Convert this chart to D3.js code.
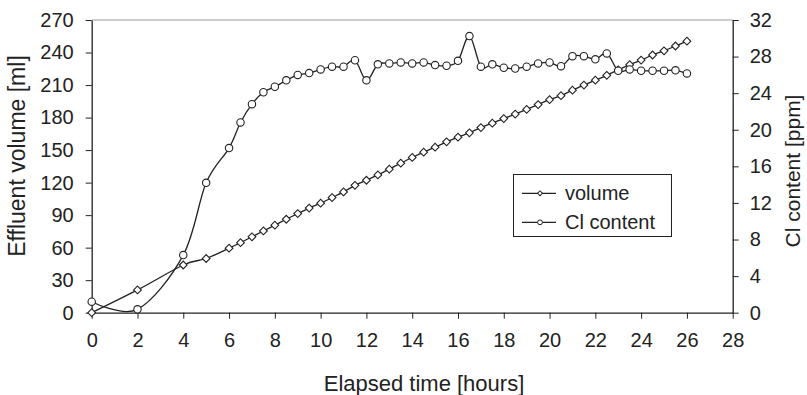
<!DOCTYPE html>
<html>
<head>
<meta charset="utf-8">
<script src="https://cdn.jsdelivr.net/npm/d3@7"></script>
<style>
  html, body { margin: 0; padding: 0; background: #fff; }
  svg { display: block; font-family: "Liberation Sans", Arial, sans-serif; }
</style>
</head>
<body>
<svg id="chart" width="807" height="395"></svg>
<script>
// ---- Data ----
const hours = [0, 2, 4, 5, 6, 6.5, 7, 7.5, 8, 8.5, 9, 9.5, 10, 10.5, 11, 11.5, 12, 12.5, 13, 13.5,
  14, 14.5, 15, 15.5, 16, 16.5, 17, 17.5, 18, 18.5, 19, 19.5, 20, 20.5, 21, 21.5, 22, 22.5, 23, 23.5,
  24, 24.5, 25, 25.5, 26];
const volume = [0, 21, 44, 50, 59.5, 64.6, 70, 75.4, 80.7, 86.2, 91.4, 96.5, 101, 106.2, 111.4, 117.5,
  122.2, 127.1, 132.4, 137.9, 143.2, 148.1, 152.7, 157.6, 161.9, 165.9, 170.8, 174.8, 179.1, 183.2,
  187.5, 192, 196.5, 200.2, 205.3, 210, 214.5, 219, 224, 228.8, 233, 237.7, 241.6, 246, 250.5];
const clContent = [1.2, 0.37, 6.3, 14.2, 18.0, 20.8, 22.8, 24.1, 24.7, 25.4, 26.0, 26.2, 26.6, 26.9, 26.9,
  27.6, 25.4, 27.15, 27.25, 27.36, 27.25, 27.36, 27.07, 27.0, 27.54, 30.24, 26.9, 27.15, 26.78, 26.7,
  26.9, 27.25, 27.36, 26.95, 28.05, 28.05, 27.7, 28.35, 26.45, 26.6, 26.45, 26.45, 26.45, 26.5, 26.16];
const xTicks = [0, 2, 4, 6, 8, 10, 12, 14, 16, 18, 20, 22, 24, 26, 28];
const yLeftTicks = [0, 30, 60, 90, 120, 150, 180, 210, 240, 270];
const yRightTicks = [0, 4, 8, 12, 16, 20, 24, 28, 32];
const seriesNames = ["volume", "Cl content"];

// ---- Layout ----
const ink = "#222";
const L = 91.7, R = 732.7, T = 20, B = 312.7;
const svg = d3.select("#chart");

const x = d3.scaleLinear().domain([0, 28]).range([L, R]);
const yL = d3.scaleLinear().domain([0, 270]).range([B, T]);
const yR = d3.scaleLinear().domain([0, 32]).range([B, T]);

// top border
svg.append("line").attr("x1", L).attr("x2", R).attr("y1", T).attr("y2", T)
  .attr("stroke", "#999").attr("stroke-width", 1);

function styleAxis(g) {
  g.selectAll("path").attr("stroke", ink).attr("stroke-width", 1.3);
  g.selectAll("line").attr("stroke", ink).attr("stroke-width", 1);
  g.selectAll("text").attr("fill", ink).style("font-size", "20px")
    .style("font-family", "'Liberation Sans', Arial, sans-serif");
}

const gx = svg.append("g").attr("transform", `translate(0,${B})`)
  .call(d3.axisBottom(x).tickValues(xTicks).tickSize(6).tickPadding(14).tickSizeOuter(0));
styleAxis(gx);

const gyl = svg.append("g").attr("transform", `translate(${L},0)`)
  .call(d3.axisLeft(yL).tickValues(yLeftTicks).tickSize(6).tickPadding(12).tickSizeOuter(0));
styleAxis(gyl);

const gyr = svg.append("g").attr("transform", `translate(${R},0)`)
  .call(d3.axisRight(yR).tickValues(yRightTicks).tickSize(6).tickPadding(11).tickSizeOuter(0));
styleAxis(gyr);

// ---- Series ----
const curve = d3.curveCardinal.tension(0);
const volPts = hours.map((h, i) => [x(h), yL(volume[i])]);
const clPts = hours.map((h, i) => [x(h), yR(clContent[i])]);
const lineGen = d3.line().curve(curve);

svg.append("path").attr("d", lineGen(volPts)).attr("fill", "none")
  .attr("stroke", ink).attr("stroke-width", 1.3);
svg.append("path").attr("d", lineGen(clPts)).attr("fill", "none")
  .attr("stroke", ink).attr("stroke-width", 1.3);

svg.append("g").selectAll("path").data(volPts).join("path")
  .attr("d", d3.symbol().type(d3.symbolSquare).size(30))
  .attr("transform", d => `translate(${d[0]},${d[1]}) rotate(45)`)
  .attr("fill", "#fff").attr("stroke", ink).attr("stroke-width", 1.1);

svg.append("g").selectAll("circle").data(clPts).join("circle")
  .attr("cx", d => d[0]).attr("cy", d => d[1]).attr("r", 3.7)
  .attr("fill", "#fff").attr("stroke", ink).attr("stroke-width", 1.1);

// ---- Legend ----
const leg = svg.append("g");
leg.append("rect").attr("x", 513.5).attr("y", 174.5).attr("width", 158).attr("height", 62)
  .attr("fill", "#fff").attr("stroke", ink).attr("stroke-width", 1);
const rowsY = [193.3, 222.3];
seriesNames.forEach((name, i) => {
  const yy = rowsY[i];
  leg.append("line").attr("x1", 522).attr("x2", 556).attr("y1", yy).attr("y2", yy)
    .attr("stroke", ink).attr("stroke-width", 1.2);
  if (i === 0) {
    leg.append("path").attr("d", d3.symbol().type(d3.symbolSquare).size(12))
      .attr("transform", `translate(540,${yy}) rotate(45)`)
      .attr("fill", "#fff").attr("stroke", ink).attr("stroke-width", 1);
  } else {
    leg.append("circle").attr("cx", 540).attr("cy", yy).attr("r", 2.4)
      .attr("fill", "#fff").attr("stroke", ink).attr("stroke-width", 1);
  }
  leg.append("text").attr("x", 565).attr("y", yy).attr("dy", "0.35em")
    .attr("fill", ink).style("font-size", "20px").text(name);
});

// ---- Axis titles ----
svg.append("text").attr("x", 424).attr("y", 391).attr("text-anchor", "middle")
  .attr("fill", ink).style("font-size", "22px").text("Elapsed time [hours]");
svg.append("text").attr("transform", "translate(17,156) rotate(-90)").attr("dy", "0.35em")
  .attr("text-anchor", "middle").attr("fill", ink).style("font-size", "23px")
  .text("Effluent volume [ml]");
svg.append("text").attr("transform", "translate(793,171) rotate(-90)").attr("dy", "0.35em")
  .attr("text-anchor", "middle").attr("fill", ink).style("font-size", "21px")
  .text("Cl content [ppm]");
</script>
</body>
</html>
